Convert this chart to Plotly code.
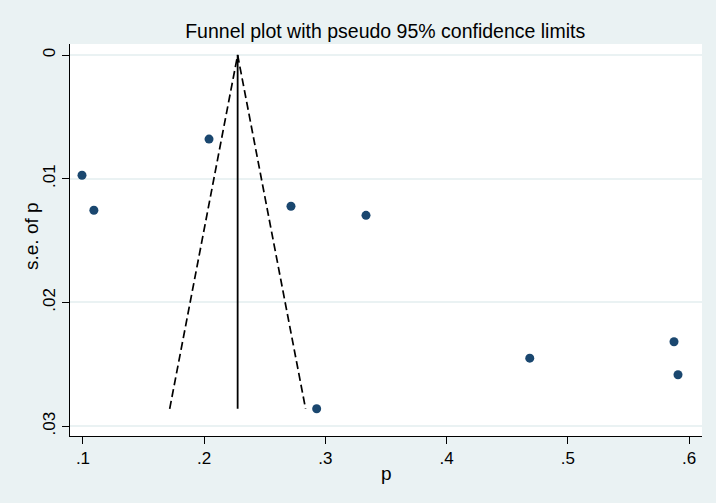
import plotly.graph_objects as go

# Study estimates (p) and their standard errors
p_vals = [0.0992, 0.1090, 0.2040, 0.2716, 0.3335, 0.4686, 0.5876, 0.5909, 0.2928]
se_vals = [0.00972, 0.01255, 0.00680, 0.01223, 0.01296, 0.02451, 0.02318, 0.02585, 0.02860]
pooled = 0.2276
z = 1.96

x_ticks = [0.1, 0.2, 0.3, 0.4, 0.5, 0.6]
x_ticklabels = [".1", ".2", ".3", ".4", ".5", ".6"]
y_ticks = [0, 0.01, 0.02, 0.03]
y_ticklabels = ["0", ".01", ".02", ".03"]

se_max = max(se_vals)
bg = "#eaf2f3"
navy = "#1a476f"
font_family = "Liberation Sans, Arial, sans-serif"

W, H = 716, 503
ML, MR, MT, MB = 70, 14, 44, 67
PW, PH = W - ML - MR, H - MT - MB

fig = go.Figure()
# pseudo 95% confidence limits
fig.add_trace(go.Scatter(
    x=[pooled - z * se_max, pooled, pooled + z * se_max],
    y=[se_max, 0, se_max],
    mode="lines", line=dict(color="black", width=1.7, dash="8px,4px"),
    hoverinfo="skip", showlegend=False))
# pooled estimate
fig.add_trace(go.Scatter(
    x=[pooled, pooled], y=[0, se_max],
    mode="lines", line=dict(color="black", width=1.8),
    hoverinfo="skip", showlegend=False))
# studies
fig.add_trace(go.Scatter(
    x=p_vals, y=se_vals, mode="markers",
    marker=dict(color=navy, size=9, line=dict(width=0)),
    showlegend=False))

fig.update_layout(
    width=W, height=H,
    margin=dict(l=ML, r=MR, t=MT, b=MB),
    paper_bgcolor=bg, plot_bgcolor="white",
    font=dict(family=font_family, size=17, color="black"),
    title=dict(text="Funnel plot with pseudo 95% confidence limits",
               x=0.538, xanchor="center", y=1 - 31 / H, yanchor="middle",
               font=dict(size=19.5)),
    xaxis=dict(range=[0.0893, 0.6107], tickvals=x_ticks, ticktext=x_ticklabels,
               showgrid=False, zeroline=False, showline=True, linecolor="black",
               linewidth=1, ticks="outside", ticklen=7, tickcolor="black",
               automargin=False, tickfont=dict(size=17)),
    yaxis=dict(range=[0.0308, -0.00089], tickvals=y_ticks, ticktext=y_ticklabels,
               showgrid=True, gridcolor=bg, gridwidth=1.5, zeroline=False,
               showline=True, linecolor="black", linewidth=1,
               ticks="outside", ticklen=7, tickcolor="black", tickangle=-90,
               automargin=False, tickfont=dict(size=17)),
    annotations=[
        dict(text="p", xref="paper", yref="paper",
             x=(386 - ML) / PW, y=-(473 - (MT + PH)) / PH,
             xanchor="center", yanchor="middle", showarrow=False,
             font=dict(size=19)),
        dict(text="s.e. of p", xref="paper", yref="paper", textangle=-90,
             x=(31 - ML) / PW, y=((MT + PH) - 236) / PH,
             xanchor="center", yanchor="middle", showarrow=False,
             font=dict(size=19)),
    ],
)

fig.write_html(
    "out.html",
    config={"displayModeBar": False},
    post_script="document.body.style.margin='0';document.body.style.background='%s';" % bg,
)
